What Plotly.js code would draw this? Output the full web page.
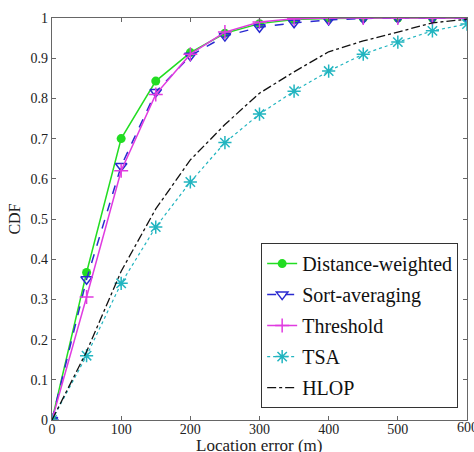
<!DOCTYPE html>
<html><head><meta charset="utf-8">
<script src="https://cdn.plot.ly/plotly-3.0.1.min.js"></script>
<style>html,body{margin:0;padding:0;background:#fff}</style>
</head><body><div id="chart" style="width:474px;height:452px"></div>
<script>
const xErr = [0,50,100,150,200,250,300,350,400,450,500,550,600];
const distanceWeighted = [0,0.367,0.700,0.843,0.914,0.962,0.986,0.996,0.999,1,1,1,1];
const sortAveraging   = [0,0.350,0.632,0.816,0.906,0.955,0.977,0.988,0.995,0.999,1,1,1];
const threshold       = [0,0.306,0.620,0.810,0.910,0.965,0.990,0.998,1,1,1,1,1];
const tsa             = [0,0.160,0.340,0.480,0.592,0.690,0.761,0.818,0.868,0.910,0.940,0.968,0.985];
const hlop            = [0,0.170,0.370,0.525,0.647,0.735,0.813,0.866,0.916,0.943,0.965,0.988,0.997];
const names = ["Distance-weighted","Sort-averaging","Threshold","TSA","HLOP"];
const xTicks = [0,100,200,300,400,500];
const lastXTick = 600;
const yTicks = [0,0.1,0.2,0.3,0.4,0.5,0.6,0.7,0.8,0.9,1];
const yTickText = ["0","0.1","0.2","0.3","0.4","0.5","0.6","0.7","0.8","0.9","1"];
const xTitle = "Location error (m)";
const yTitle = "CDF";

const traces = [
 {x:xErr,y:distanceWeighted,name:names[0],mode:'lines+markers',legendgroup:'a',
  line:{color:'#22dd22',width:1.5},marker:{symbol:'circle',size:9,color:'#22dd22'}},
 {x:xErr,y:sortAveraging,name:names[1],mode:'lines+markers',legendgroup:'b',
  line:{color:'#2a2ad0',width:1.5,dash:'dash'},marker:{symbol:'triangle-down-open',size:10,color:'#2a2ad0',line:{width:1.5}}},
 {x:xErr,y:threshold,name:names[2],mode:'lines+markers',legendgroup:'c',
  line:{color:'#e03be0',width:1.5},marker:{symbol:'cross-thin-open',size:10,color:'#e03be0',line:{width:1.5,color:'#e03be0'}}},
 {x:xErr,y:tsa,name:names[3],mode:'lines+markers',legendgroup:'d',
  line:{color:'#22b5c0',width:1.2,dash:'dot'},marker:{symbol:'asterisk-open',size:11,color:'#22b5c0',line:{width:1.5,color:'#22b5c0'}}},
 {x:xErr,y:hlop,name:names[4],mode:'lines',legendgroup:'e',
  line:{color:'#111111',width:1.3,dash:'dashdot'}}
];

const serif = 'Liberation Serif';
const layout = {
 width:474,height:452,
 margin:{l:52,r:7,t:18,b:32},
 paper_bgcolor:'#fff',plot_bgcolor:'#fff',
 font:{family:serif,size:14,color:'#222'},
 showlegend:true,
 xaxis:{range:[0,600],tickvals:xTicks,ticks:'inside',ticklen:4,mirror:'ticks',showline:true,ticklabelstandoff:-4,
   linecolor:'#666',linewidth:1.2,showgrid:false,zeroline:false,tickcolor:'#666'},
 yaxis:{range:[0,1],tickvals:yTicks,ticktext:yTickText,ticks:'inside',ticklen:4,mirror:'ticks',showline:true,
   linecolor:'#666',linewidth:1.2,showgrid:false,zeroline:false,tickcolor:'#666',
   title:{text:yTitle,font:{family:serif,size:16},standoff:6}},
 annotations:[
  {xref:'x',yref:'paper',x:lastXTick,y:0,yanchor:'top',yshift:2,showarrow:false,text:String(lastXTick),font:{family:serif,size:14,color:'#222'}},
  {xref:'paper',yref:'paper',x:0.5,y:0,yanchor:'top',yshift:-14,showarrow:false,text:xTitle,font:{family:serif,size:17,color:'#222'}}
 ],
 legend:{x:0.504,y:0.44,xanchor:'left',yanchor:'top',bgcolor:'#fff',bordercolor:'#333',borderwidth:1,
   font:{family:serif,size:20,color:'#111'},tracegroupgap:2,itemwidth:30}
};
Plotly.newPlot('chart',traces,layout,{displayModeBar:false,staticPlot:true});
</script></body></html>
